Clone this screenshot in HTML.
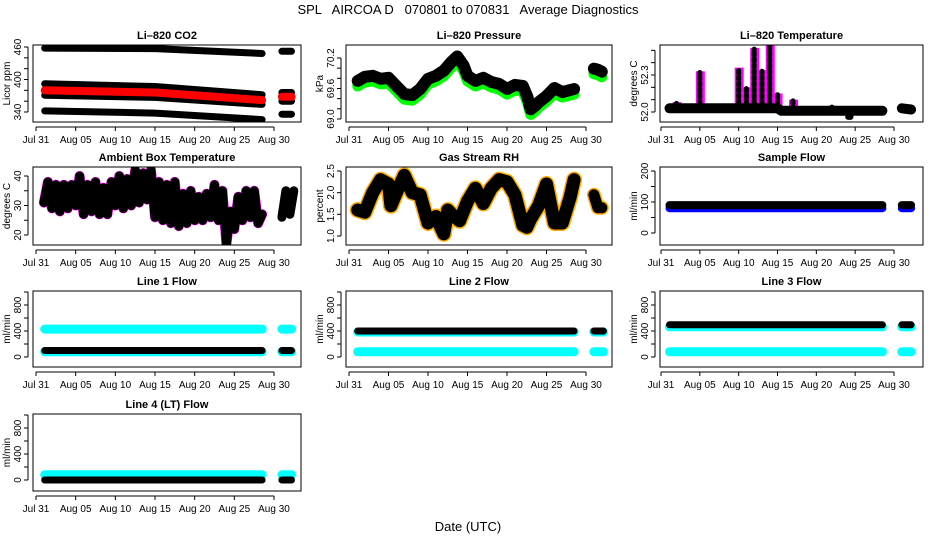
<!DOCTYPE html>
<html><head><meta charset="utf-8"><style>
body{margin:0;background:#fff;}
svg{display:block;font-family:"Liberation Sans",Helvetica,sans-serif;}
</style></head><body>
<svg id="chart" width="936" height="540" viewBox="0 0 936 540">
<text x="468" y="14" text-anchor="middle" font-size="13" style="white-space:pre">SPL   AIRCOA D   070801 to 070831   Average Diagnostics</text>
<text x="468" y="531" text-anchor="middle" font-size="13">Date (UTC)</text>
</svg>
<script>
// ---- data (days since Jul 31) ----
const dateTicks = ["Jul 31","Aug 05","Aug 10","Aug 15","Aug 20","Aug 25","Aug 30"];
const tEnds = [1.1, 15, 28.5, 31, 32.2];
const co2Top = [458, 457, 448, 452, 452];
const co2High = [392, 387, 372, 376, 376];
const co2Red = [380, 376, 362, 368, 368];
const co2Mid = [371, 367, 354, 360, 360];
const co2Low = [342, 338, 326, 336, 336];

const presT = [1.1,2,3,4,5,6,7,8,9,10,11,12,13,13.7,14.5,15,16,17,18,19,20,21,22,22.6,23,23.5,24,25,26,27,28.5];
const presV = [69.72,69.8,69.82,69.76,69.78,69.62,69.46,69.44,69.56,69.76,69.82,69.92,70.1,70.2,70.02,69.82,69.72,69.78,69.7,69.66,69.56,69.64,69.62,69.4,69.16,69.22,69.3,69.42,69.58,69.5,69.56];
const presT2 = [31,31.5,32];
const presV2 = [69.96,69.94,69.9];

const ltBaseT = [1.1,15,15.5,28.5];
const ltBaseV = [52.03,52.03,52.01,52.01];
const ltSpikeT = [2,5,10,11,12,13,14,15,17,22];
const ltSpikeV = [52.08,52.33,52.36,52.2,52.52,52.34,52.55,52.15,52.1,52.05];
const ltBase2T = [31,32.2];
const ltBase2V = [52.03,52.02];

const ambDay = [1,2,3,4,5,6,7,8,9,10,11,12,13,14,15,16,17,18,19,20,21,22,23,24,25,26,27,28];
const ambLo = [31,29,28,29,30,27,28,27,27,30,29,30,31,32,26,25,24,23,24,25,25,26,25,17,22,25,26,24];
const ambHi = [38,37,37,37,40,37,38,36,38,40,39,42,41,42,38,37,38,34,35,33,34,37,35,28,33,35,35,27];
const ambDay2 = [31,32];
const ambLo2 = [26,27];
const ambHi2 = [35,35];

const rhT = [1.1,2,3,4,5,5.3,6,7,8,9,10,11,12,12.5,13,14,15,16,17,18,19,20,21,22,22.5,23,24,25,26,27,28,28.5];
const rhV = [1.6,1.55,2.0,2.3,2.2,1.7,2.0,2.4,2.0,1.95,1.3,1.45,1.05,1.6,1.5,1.35,1.8,2.1,1.75,2.1,2.3,2.25,1.95,1.25,1.2,1.4,1.7,2.2,1.3,1.3,1.9,2.3];
const rhT2 = [31,31.5,32];
const rhV2 = [1.95,1.65,1.65];

const flowT = [1.1, 28.5];
const flowT2 = [31, 32.2];
const sampleBlack = 90, sampleBlue = 80;
const l1Cyan = [430, 80], l1Black = 100;
const l2Cyan = [385, 80], l2Black = 400;
const l3Cyan = [465, 80], l3Black = 495;
const l4Cyan = [80], l4Black = 0;

// ---- layout ----
const svg = document.getElementById('chart');
const NS = 'http://www.w3.org/2000/svg';
function mk(tag, attrs, parent){const e=document.createElementNS(NS,tag);for(const k in attrs)e.setAttribute(k,attrs[k]);(parent||svg).appendChild(e);return e;}

const cols = [{x0:33,x1:301,d0:36,d30:274},{x0:346,x1:612,d0:349,d30:586},{x0:660,x1:923,d0:661,d30:894}];
const rows = [{y0:45,y1:122},{y0:167,y1:245},{y0:291,y1:367},{y0:414,y1:491}];

function panel(name, title, ci, ri, ylab, v1, p1, v2, p2, ticks, labels, dec){
  const c=cols[ci], r=rows[ri];
  const g=mk('g',{});
  
  
  const xs=t=>c.d0+(c.d30-c.d0)*t/30;
  const ys=v=>p1+(v-v1)*(p2-p1)/(v2-v1);
  const clip=mk('clipPath',{id:'cp'+name},g);
  mk('rect',{x:c.x0,y:r.y0,width:c.x1-c.x0,height:r.y1-r.y0},clip);
  const plot=mk('g',{'clip-path':'url(#cp'+name+')'},g);
  const t=mk('text',{x:(c.x0+c.x1)/2,y:r.y0-6,'text-anchor':'middle','font-size':'11','font-weight':'bold'},g);
  t.textContent=title;
  
  
  const box=mk('rect',{x:c.x0,y:r.y0,width:c.x1-c.x0,height:r.y1-r.y0,fill:'none',stroke:'#000','stroke-width':1},g);
  
  
  const ay=r.y1+5;
  mk('line',{x1:xs(0),x2:xs(30),y1:ay,y2:ay,stroke:'#000'},g);
  dateTicks.forEach((lab,i)=>{const x=xs(i*5);mk('line',{x1:x,x2:x,y1:ay,y2:ay+4,stroke:'#000'},g);
    const tx=mk('text',{x:x,y:ay+16,'text-anchor':'middle','font-size':'10'},g);tx.textContent=lab;
    
    });
  const ax=c.x0-5;
  mk('line',{x1:ax,x2:ax,y1:ys(ticks[0]),y2:ys(ticks[ticks.length-1]),stroke:'#000'},g);
  ticks.forEach(v=>{const y=ys(v);mk('line',{x1:ax-4,x2:ax,y1:y,y2:y,stroke:'#000'},g);});
  labels.forEach(v=>{const y=ys(v);const tx=mk('text',{x:0,y:0,'text-anchor':'middle','font-size':'10',transform:`translate(${ax-7},${y}) rotate(-90)`},g);tx.textContent=v.toFixed(dec);
    
    });
  const yl=mk('text',{x:0,y:0,'text-anchor':'middle','font-size':'10',transform:`translate(${c.x0-23},${(r.y0+r.y1)/2}) rotate(-90)`},g);
  yl.textContent=ylab;
  
  
  return {xs,ys,plot};
}
function line(p, T, V, color, w, nm, dash){
  const pts=T.map((t,i)=>p.xs(t).toFixed(1)+','+p.ys(V[i]).toFixed(1)).join(' ');
  const e=mk('polyline',{points:pts,fill:'none',stroke:color,'stroke-width':w,'stroke-linejoin':'round','stroke-linecap':'round'},p.plot);
  if(dash) e.setAttribute('stroke-dasharray',dash);
  
  
  return e;
}
function seg(arr,a,b){return arr.slice(a,b);}

// CO2
let p=panel('co2-panel','Li\u2013820 CO2',0,0,'Licor ppm',460,47,340,112,[340,360,380,400,420,440,460],[340,400,460],0);
[[co2Top,'#000'],[co2High,'#000'],[co2Mid,'#000'],[co2Red,'#f00'],[co2Low,'#000']].forEach(([a,col],k)=>{
  line(p,seg(tEnds,0,3),seg(a,0,3),col,col==='#f00'?8:7,'co2-series-'+k);
  line(p,seg(tEnds,3,5),seg(a,3,5),col,col==='#f00'?8:7,'co2-series-'+k+'-b');
});
// Pressure
p=panel('pressure-panel','Li\u2013820 Pressure',1,0,'kPa',69.0,119,70.2,58,[69.0,69.2,69.4,69.6,69.8,70.0,70.2],[69.0,69.6,70.2],1);
line(p,presT,presV.map(v=>v-0.07),'#0f0',11,'pressure-green');
line(p,presT,presV.map(v=>v+0.03),'#000',12,'pressure-black');
line(p,presT2,presV2.map(v=>v-0.07),'#0f0',11,'pressure-green-b');
line(p,presT2,presV2.map(v=>v+0.03),'#000',12,'pressure-black-b');
// Li-820 temp
p=panel('licor-temp-panel','Li\u2013820 Temperature',2,0,'degrees C',52.0,112,52.3,75,[52.0,52.1,52.2,52.3,52.4,52.5],[52.0,52.3],1);
ltSpikeT.forEach((t,i)=>{
  const x=p.xs(t);
  const r=mk('rect',{x:x-4,y:p.ys(ltSpikeV[i]),width:9,height:p.ys(52.02)-p.ys(ltSpikeV[i]),fill:'#f0f'},p.plot);
  
  
  line(p,[t,t],[52.02,ltSpikeV[i]-0.01],'#000',5,'temp-spike-dots','3 3');
});
line(p,ltBaseT,ltBaseV,'#000',10,'temp-baseline');
line(p,[24.1,24.4],[51.96,51.96],'#000',6,'temp-dip');
line(p,ltBase2T,ltBase2V,'#000',10,'temp-baseline-b');
// Ambient
p=panel('ambient-panel','Ambient Box Temperature',0,1,'degrees C',20,235,40,176,[20,25,30,35,40],[20,30,40],0);
function zig(days,lo,hi){const T=[],V=[];days.forEach((d,i)=>{T.push(d);V.push(lo[i]);T.push(d+0.5);V.push(hi[i]);});return [T,V];}
let z=zig(ambDay,ambLo,ambHi);
line(p,z[0],z[1],'#f0f',10,'ambient-magenta');
line(p,z[0],z[1],'#000',9,'ambient-black');
z=zig(ambDay2,ambLo2,ambHi2);
line(p,z[0],z[1],'#000',9,'ambient-black-b');
// RH
p=panel('rh-panel','Gas Stream RH',1,1,'percent',1.0,236,2.5,171,[1.0,1.5,2.0,2.5],[1.0,1.5,2.0,2.5],1);
line(p,rhT,rhV,'#fa0',16,'rh-orange');
line(p,rhT,rhV,'#000',13,'rh-black');
line(p,rhT2,rhV2,'#fa0',14,'rh-orange-b');
line(p,rhT2,rhV2,'#000',11,'rh-black-b');
// Sample flow
p=panel('sample-flow-panel','Sample Flow',2,1,'ml/min',0,233,200,171,[0,50,100,150,200],[0,100,200],0);
[flowT,flowT2].forEach((T,k)=>{
  line(p,T,[sampleBlue,sampleBlue],'#00f',8,'sample-blue-'+k);
  line(p,T,[sampleBlack,sampleBlack],'#000',8,'sample-black-'+k);
});
function flowPanel(name,title,ci,ri,cyan,black){
  const r=rows[ri];
  const p=panel(name,title,ci,ri,'ml/min',0,r.y0+66,800,r.y0+14,[0,200,400,600,800,1000],[0,400,800],0);
  [flowT,flowT2].forEach((T,k)=>{
    cyan.forEach((v,j)=>line(p,T,[v,v],'#0ff',9,name+'-cyan-'+j+'-'+k));
    line(p,T,[black,black],'#000',7,name+'-black-'+k);
  });
}
flowPanel('line1-panel','Line 1 Flow',0,2,l1Cyan,l1Black);
flowPanel('line2-panel','Line 2 Flow',1,2,l2Cyan,l2Black);
flowPanel('line3-panel','Line 3 Flow',2,2,l3Cyan,l3Black);
flowPanel('line4-panel','Line 4 (LT) Flow',0,3,l4Cyan,l4Black);
</script>
</body></html>
